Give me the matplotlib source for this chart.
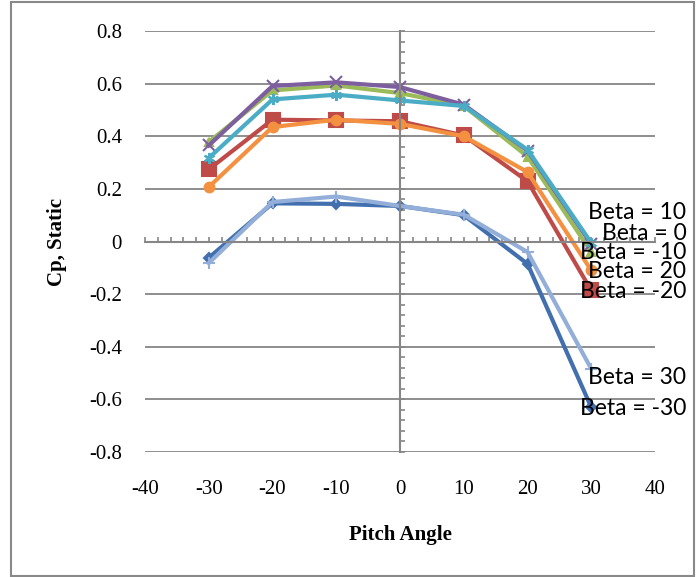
import numpy as np
import matplotlib
matplotlib.use("Agg")
import matplotlib.pyplot as plt
from matplotlib.patches import Rectangle
from matplotlib.ticker import MultipleLocator

plt.rcParams["axes.unicode_minus"] = False

# data
pitch = [-30, -20, -10, 0, 10, 20, 30]
beta_m30 = [-0.062, 0.145, 0.143, 0.135, 0.100, -0.085, -0.630]
beta_m20 = [0.274, 0.463, 0.460, 0.457, 0.403, 0.229, -0.186]
beta_m10 = [0.378, 0.574, 0.593, 0.564, 0.515, 0.323, -0.040]
beta_0 = [0.365, 0.591, 0.605, 0.587, 0.520, 0.345, -0.010]
beta_10 = [0.317, 0.540, 0.558, 0.536, 0.515, 0.349, -0.005]
beta_20 = [0.207, 0.435, 0.463, 0.447, 0.400, 0.264, -0.110]
beta_30 = [-0.082, 0.150, 0.171, 0.135, 0.102, -0.040, -0.484]

names = ["Beta = -30", "Beta = -20", "Beta = -10", "Beta = 0",
         "Beta = 10", "Beta = 20", "Beta = 30"]
series = [beta_m30, beta_m20, beta_m10, beta_0, beta_10, beta_20, beta_30]

# styles
colors = ["#4270AE", "#BE4B48", "#9BBB59", "#7D5FA0", "#4BACC6", "#F39141", "#93AED8"]
markers = ["D", "s", "^", "x", (6, 2, 0), "o", "+"]
msizes = [5, 10, 6, 8, 8, 7, 8]
label_dy = [-1, -1, 0, 7.6, 21.8, -0.7, -6.3]  # points, label offsets

gray = "#868686"

fig = plt.figure(figsize=(7, 5.77), dpi=100)
pos = [145 / 700, 1 - 452 / 577, 510 / 700, 421 / 577]

# background axes: grid + tick labels
lab = fig.add_axes(pos)
lab.set_xlim(-40, 40)
lab.set_ylim(-0.8, 0.8)
lab.set_xticks(np.arange(-40, 41, 10))
lab.set_yticks(np.round(np.arange(-0.8, 0.81, 0.2), 1))
lab.set_yticklabels(["-0.8", "-0.6", "-0.4", "-0.2", "0", "0.2", "0.4", "0.6", "0.8"])
lab.tick_params(length=0, labelsize=15)
lab.tick_params(axis="y", pad=16.5)
lab.tick_params(axis="x", pad=20)
for t in lab.get_xticklabels() + lab.get_yticklabels():
    t.set_fontfamily("Liberation Serif")
for s in lab.spines.values():
    s.set_visible(False)
lab.grid(axis="y", color=gray, linewidth=1.3)
lab.set_axisbelow(True)

lab.text(-0.1725, 0.5, "Cp, Static", transform=lab.transAxes, rotation=90,
         ha="center", va="center", fontsize=15, fontweight="bold",
         fontfamily="Liberation Serif")
lab.text(0.5, -0.198, "Pitch Angle", transform=lab.transAxes,
         ha="center", va="center", fontsize=15, fontweight="bold",
         fontfamily="Liberation Serif")

# front axes: zero-crossing axes and the data
ax = fig.add_axes(pos)
ax.patch.set_visible(False)
ax.set_xlim(-40, 40)
ax.set_ylim(-0.8, 0.8)
ax.spines["left"].set_position(("data", 0))
ax.spines["bottom"].set_position(("data", 0))
ax.spines["top"].set_visible(False)
ax.spines["right"].set_visible(False)
for s in ("left", "bottom"):
    ax.spines[s].set_color(gray)
    ax.spines[s].set_linewidth(1.5)
ax.xaxis.set_major_locator(MultipleLocator(10))
ax.xaxis.set_minor_locator(MultipleLocator(2))
ax.yaxis.set_major_locator(MultipleLocator(0.2))
ax.yaxis.set_minor_locator(MultipleLocator(0.04))
ax.tick_params(which="both", direction="in", length=3.5, width=1.2, color=gray,
               labelbottom=False, labelleft=False)

for name, vals, c, m, ms, dy in zip(names, series, colors, markers, msizes, label_dy):
    ax.plot(pitch, vals, color=c, linewidth=3, marker=m, markersize=ms,
            markeredgecolor=c, markerfacecolor=c, markeredgewidth=1.5, clip_on=False)
    ax.annotate(name, xy=(pitch[-1], vals[-1]), xytext=(68.4, dy),
                textcoords="offset points", ha="right", va="center",
                fontsize=16.5, fontfamily="Lato", color="black")

# outer chart border
fig.patches.append(Rectangle((11 / 700, 1 / 577), 683 / 700, 574 / 577,
                             transform=fig.transFigure, fill=False,
                             edgecolor="#898989", linewidth=1.5))

fig.savefig("out.png", dpi=100)
